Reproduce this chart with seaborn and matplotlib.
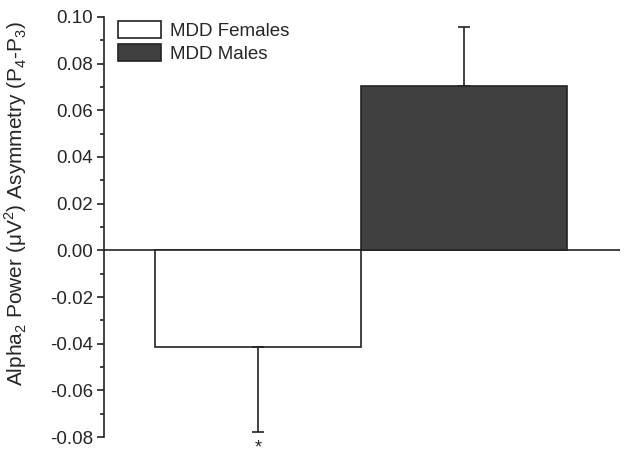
import numpy as np
import matplotlib
matplotlib.use("Agg")
import matplotlib.pyplot as plt
import seaborn as sns
from matplotlib.ticker import MultipleLocator

# data
groups = ["MDD Females", "MDD Males"]
means = [-0.0413, 0.0705]
sem = [0.0367, 0.0252]
bar_colors = ["#ffffff", "#404040"]

sns.set_style("ticks")
plt.rcParams["font.family"] = ["Liberation Sans", "DejaVu Sans"]
plt.rcParams["mathtext.fontset"] = "custom"
plt.rcParams["mathtext.rm"] = "Liberation Sans"

fig = plt.figure(figsize=(6.29, 4.58), dpi=100)
ax = fig.add_axes([104 / 629, 21 / 458, 516 / 629, 420 / 458])

sns.barplot(x=groups, y=means, hue=groups, palette=bar_colors, width=1.0,
            edgecolor="#222222", linewidth=1.2, dodge=False, legend=False, ax=ax)

# one-sided error bars (away from zero)
lower = [sem[0], 0]
upper = [0, sem[1]]
ax.errorbar(range(len(groups)), means, yerr=[lower, upper], fmt="none",
            ecolor="#222222", elinewidth=1.2, capsize=4, capthick=1.2)

ax.axhline(0, color="#222222", lw=1.2, zorder=0.5)
ax.text(0, -0.0812, "*", ha="center", va="top", fontsize=13, clip_on=False)

ax.set_xlim(-0.75, 1.76)
ax.set_ylim(-0.08, 0.10)
ax.yaxis.set_major_locator(MultipleLocator(0.02))
ax.yaxis.set_minor_locator(MultipleLocator(0.01))
ax.yaxis.set_major_formatter(plt.FormatStrFormatter("%.2f"))
ax.tick_params(axis="y", which="major", length=5, width=1.2, labelsize=13.5,
               color="#222222", pad=3)
ax.tick_params(axis="y", which="minor", length=3, width=1.2, color="#222222")
ax.set_xticks([])
ax.set_xlabel("")
for s in ["top", "right", "bottom"]:
    ax.spines[s].set_visible(False)
ax.spines["left"].set_linewidth(1.2)
ax.spines["left"].set_color("#222222")

ax.set_ylabel("Alpha$_2$ Power (μV$^2$) Asymmetry (P$_4$-P$_3$)", fontsize=15)
ax.yaxis.set_label_coords(-0.145, 0.557)

handles = [c for c in ax.patches][:2]
ax.legend(handles, groups, loc="upper left", bbox_to_anchor=(-0.005, 1.03),
          frameon=False, fontsize=13.5, handlelength=2.3, handleheight=1.0,
          labelspacing=0.22, handletextpad=0.45)

fig.savefig("out.png", dpi=100)
